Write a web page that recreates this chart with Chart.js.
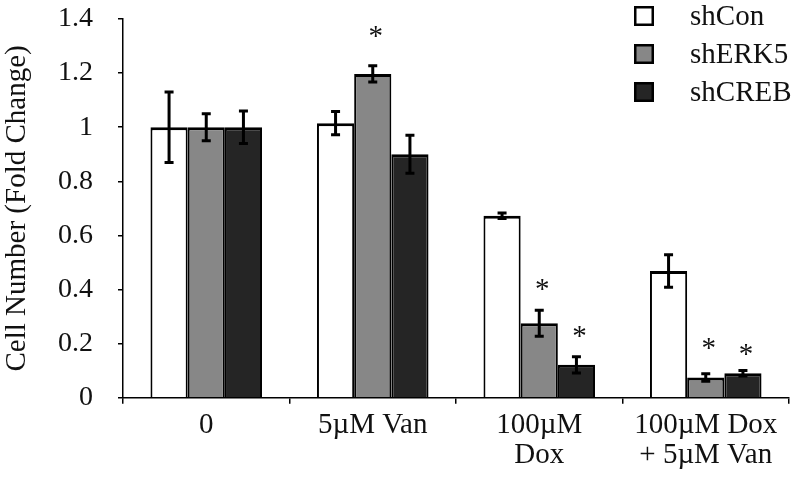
<!DOCTYPE html>
<html>
<head>
<meta charset="utf-8">
<script src="https://cdn.jsdelivr.net/npm/chart.js@4"></script>
<style>
  html,body{margin:0;padding:0;background:#fff;}
  #wrap{width:793px;height:477px;position:relative;}
</style>
</head>
<body>
<div id="wrap"><canvas id="c"></canvas></div>
<script>
// data
const categories=[['0'],['5µM Van'],['100µM','Dox'],['100µM Dox','+ 5µM Van']];
const seriesNames=['shCon','shERK5','shCREB'];
const shCon=[1.0,1.015,0.673,0.469];
const shERK5=[1.0,1.197,0.276,0.075];
const shCREB=[1.0,0.900,0.122,0.091];
const errCon=[0.13,0.043,0.01,0.06];
const errERK5=[0.05,0.03,0.048,0.014];
const errCREB=[0.06,0.07,0.03,0.01];
// height (fold change) of the significance asterisks, null = none
const starCon=[null,null,null,null];
const starERK5=[null,1.353,0.417,0.202];
const starCREB=[null,null,0.245,0.177];
const yTickLabels=['0','0.2','0.4','0.6','0.8','1','1.2','1.4'];

const fills=['#ffffff','#878787','#252525'];
const errs=[errCon,errERK5,errCREB];
const stars=[starCon,starERK5,starCREB];
const FONT='"Liberation Serif","Times New Roman",serif';

const extras={
  id:'extras',
  afterDatasetsDraw(chart){
    const ctx=chart.ctx, y=chart.scales.y;
    ctx.save();
    chart.data.datasets.forEach((ds,i)=>{
      chart.getDatasetMeta(i).data.forEach((bar,j)=>{
        const e=errs[i][j], v=ds.data[j];
        const t=y.getPixelForValue(v+e), b=y.getPixelForValue(v-e);
        ctx.strokeStyle='#000'; ctx.lineWidth=3; ctx.lineCap='butt';
        ctx.beginPath();
        ctx.moveTo(bar.x,t-1.5); ctx.lineTo(bar.x,b+1.5);
        ctx.moveTo(bar.x-4.5,t); ctx.lineTo(bar.x+4.5,t);
        ctx.moveTo(bar.x-4.5,b); ctx.lineTo(bar.x+4.5,b);
        ctx.stroke();
        const s=stars[i][j];
        if(s!=null){
          ctx.font='29px '+FONT; ctx.fillStyle='#111'; ctx.textAlign='center'; ctx.textBaseline='alphabetic';
          const m=ctx.measureText('*');
          const yc=y.getPixelForValue(s);
          ctx.fillText('*',bar.x+3,yc+(m.actualBoundingBoxAscent-m.actualBoundingBoxDescent)/2);
        }
      });
    });
    // legend, top right
    const lx=634, ly=16, gap=38, box=20;
    seriesNames.forEach((n,i)=>{
      const cy=ly+i*gap;
      ctx.fillStyle=fills[i]; ctx.fillRect(lx,cy-box/2,box,box);
      ctx.strokeStyle='#000'; ctx.lineWidth=2.5; ctx.strokeRect(lx+1.25,cy-box/2+1.25,box-2.5,box-2.5);
      ctx.fillStyle='#111'; ctx.font='29px '+FONT; ctx.textAlign='left'; ctx.textBaseline='middle';
      ctx.fillText(n,690,cy+1);
    });
    ctx.restore();
  }
};

const datasets=[shCon,shERK5,shCREB].map((d,i)=>({
  label:seriesNames[i], data:d, backgroundColor:fills[i], borderColor:'#000',
  borderWidth:{top:3,left:2,right:2,bottom:0}, borderSkipped:'start',
  barPercentage:1, categoryPercentage:0.67
}));

new Chart(document.getElementById('c'),{
  type:'bar',
  data:{labels:categories,datasets},
  options:{
    responsive:true, maintainAspectRatio:false, animation:false,
    layout:{padding:{top:19,right:4,bottom:0,left:0}},
    plugins:{legend:{display:false},tooltip:{enabled:false}},
    scales:{
      x:{
        afterFit(s){s.paddingLeft=0;s.paddingRight=0;},
        grid:{display:true,drawOnChartArea:false,drawTicks:true,tickLength:6,color:'#000',lineWidth:1.5},
        border:{display:true,color:'#000',width:1.5},
        ticks:{color:'#111',padding:7,font:{family:FONT,size:29,lineHeight:1.02},maxRotation:0,autoSkip:false}
      },
      y:{
        min:0,max:1.4,
        afterFit(s){s.width=123;s.paddingTop=0;s.paddingBottom=0;},
        grid:{display:true,drawOnChartArea:false,drawTicks:true,tickLength:5,color:'#000',lineWidth:1.5},
        border:{display:true,color:'#000',width:1.5},
        ticks:{stepSize:0.2,color:'#111',padding:25,font:{family:FONT,size:28,lineHeight:1.2},
          callback:(v,i)=>yTickLabels[i]},
        title:{display:true,text:'Cell Number (Fold Change)',color:'#111',padding:0,
          font:{family:FONT,size:29,lineHeight:1.2}}
      }
    }
  },
  plugins:[extras]
});
</script>
</body>
</html>
